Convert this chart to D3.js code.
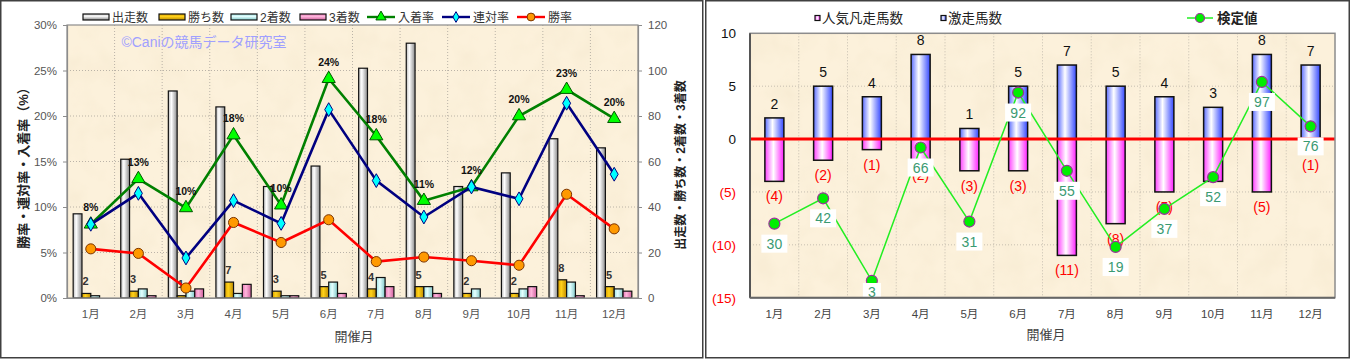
<!DOCTYPE html>
<html>
<head>
<meta charset="utf-8">
<script src="https://d3js.org/d3.v7.min.js"></script>
<style>
  body { margin: 0; background: #fff; }
  svg text { font-family: "Liberation Sans", "Noto Sans CJK JP", sans-serif; }
</style>
</head>
<body>
<script>
// ---- data ----
const months = ["1月", "2月", "3月", "4月", "5月", "6月", "7月", "8月", "9月", "10月", "11月", "12月"];

// left chart: counts
const starters = [37, 61, 91, 84, 49, 58, 101, 112, 49, 55, 70, 66];
const wins = [2, 3, 1, 7, 3, 5, 4, 5, 2, 2, 8, 5];
const seconds = [1, 4, 3, 2, 1, 7, 9, 5, 4, 4, 7, 4];
const thirds = [0, 1, 4, 6, 1, 2, 5, 2, 0, 5, 1, 3];
// left chart: rates (%)
const placeRate = [8.1, 13.1, 9.9, 17.9, 10.2, 24.1, 17.8, 10.7, 12.2, 20.0, 22.9, 19.7];
const quinellaRate = [8.1, 11.5, 4.4, 10.7, 8.2, 20.7, 12.9, 8.9, 12.2, 10.9, 21.4, 13.6];
const winRate = [5.4, 4.9, 1.1, 8.3, 6.1, 8.6, 4.0, 4.5, 4.1, 3.6, 11.4, 7.6];
const placeLabels = ["8%", "13%", "10%", "18%", "10%", "24%", "18%", "11%", "12%", "20%", "23%", "20%"];
const pctTicks = [0, 5, 10, 15, 20, 25, 30];
const countTicks = [0, 20, 40, 60, 80, 100, 120];

// right chart
const gekisou = [2, 5, 4, 8, 1, 5, 7, 5, 4, 3, 8, 7];      // 激走馬数
const bonsou = [4, 2, 1, 2, 3, 3, 11, 8, 5, 4, 5, 1];      // 人気凡走馬数
const kentei = [30, 42, 3, 66, 31, 92, 55, 19, 37, 52, 97, 76]; // 検定値
const diffTicks = [10, 5, 0, -5, -10, -15];

const svg = d3.select("body")
    .append("svg")
    .attr("width", 1351)
    .attr("height", 360);

const defs = svg.append("defs");

// parchment texture
const paper = defs.append("filter")
    .attr("id", "paper")
    .attr("x", 0).attr("y", 0).attr("width", 1).attr("height", 1);
paper.append("feTurbulence")
    .attr("type", "fractalNoise")
    .attr("baseFrequency", "0.035")
    .attr("numOctaves", 3)
    .attr("seed", 5);
paper.append("feColorMatrix")
    .attr("type", "matrix")
    .attr("values", "0 0 0 0 0.86  0 0 0 0 0.75  0 0 0 0 0.55  0.55 0 0 0 -0.21");
paper.append("feComposite").attr("in2", "SourceGraphic").attr("operator", "in");

function gradient(id, stops, vertical) {
    const g = defs.append("linearGradient")
        .attr("id", id)
        .attr("x1", 0).attr("y1", 0)
        .attr("x2", vertical ? 0 : 1).attr("y2", vertical ? 1 : 0);
    stops.forEach(s => g.append("stop").attr("offset", s[0]).attr("stop-color", s[1]));
}

const barColors = {
    starters: [[0, "#bdbdbd"], [0.35, "#ffffff"], [1, "#8a8a8a"]],
    wins: [[0, "#d9a000"], [0.4, "#ffd21a"], [1, "#c08c00"]],
    seconds: [[0, "#9fe3e3"], [0.4, "#e4ffff"], [1, "#80c8c8"]],
    thirds: [[0, "#e87ab8"], [0.4, "#ffb6dc"], [1, "#d0609e"]],
    blue: [[0, "#5a6cff"], [0.4, "#ffffff"], [1, "#3448ff"]],
    pink: [[0, "#ff40ff"], [0.45, "#ffffff"], [1, "#ff20ff"]]
};
Object.keys(barColors).forEach(k => {
    gradient("g-" + k, barColors[k], false);
    gradient("gv-" + k, barColors[k], true);
});

// panel frames
svg.append("rect").attr("x", 0.75).attr("y", 0.75).attr("width", 702).attr("height", 357)
    .attr("fill", "#fff").attr("stroke", "#404040").attr("stroke-width", 1.5);
svg.append("rect").attr("x", 705.75).attr("y", 0.75).attr("width", 643.5).attr("height", 357)
    .attr("fill", "#fff").attr("stroke", "#404040").attr("stroke-width", 1.5);

// =================== LEFT CHART ===================
const L = { left: 67, right: 638, top: 25, bottom: 298 };

const x = d3.scaleBand().domain(months).range([L.left, L.right]);
const yPct = d3.scaleLinear().domain([0, 30]).range([L.bottom, L.top]);
const yCnt = d3.scaleLinear().domain([0, 120]).range([L.bottom, L.top]);

const keys = ["starters", "wins", "seconds", "thirds"];
const series = { starters: starters, wins: wins, seconds: seconds, thirds: thirds };
const xSub = d3.scaleBand().domain(keys).range([0, x.bandwidth()]).paddingOuter(0.7);

const left = svg.append("g");

left.append("rect")
    .attr("x", L.left).attr("y", L.top)
    .attr("width", L.right - L.left).attr("height", L.bottom - L.top)
    .attr("fill", "#fcf1db");
left.append("rect")
    .attr("x", L.left).attr("y", L.top)
    .attr("width", L.right - L.left).attr("height", L.bottom - L.top)
    .attr("fill", "#fff")
    .attr("filter", "url(#paper)");

// grid
left.selectAll(".hgrid")
    .data(pctTicks.slice(1, -1))
    .enter().append("line")
    .attr("x1", L.left).attr("x2", L.right)
    .attr("y1", d => yPct(d)).attr("y2", d => yPct(d))
    .attr("stroke", "#a9a39a").attr("stroke-width", 0.8).attr("stroke-dasharray", "1,2");
left.selectAll(".vgrid")
    .data(months.slice(1))
    .enter().append("line")
    .attr("x1", d => x(d)).attr("x2", d => x(d))
    .attr("y1", L.top).attr("y2", L.bottom)
    .attr("stroke", "#a9a39a").attr("stroke-width", 0.8).attr("stroke-dasharray", "1,2");

// watermark
left.append("text")
    .attr("x", 204).attr("y", 47)
    .attr("text-anchor", "middle")
    .style("font-size", "14px")
    .style("fill", "#a0a0ff")
    .text("©Caniの競馬データ研究室");

// bars
months.forEach((m, i) => {
    keys.forEach(k => {
        const v = series[k][i];
        if (v <= 0) return;
        left.append("rect")
            .attr("x", x(m) + xSub(k))
            .attr("y", yCnt(v))
            .attr("width", xSub.bandwidth())
            .attr("height", L.bottom - yCnt(v))
            .attr("fill", "url(#g-" + k + ")")
            .attr("stroke", "#111")
            .attr("stroke-width", 1.2);
    });
});

// win count labels
left.selectAll(".winlab")
    .data(wins)
    .enter().append("text")
    .attr("x", (d, i) => x(months[i]) + xSub("wins") + 0.5)
    .attr("y", d => yCnt(d) - 8)
    .style("font-size", "11px")
    .style("font-weight", "bold")
    .style("fill", "#333")
    .text(d => d);

// rate lines
const cx = i => x(months[i]) + x.bandwidth() / 2;
const rateLine = d3.line().x((d, i) => cx(i)).y(d => yPct(d));

const lines = [
    { data: placeRate, color: "#008000", sym: d3.symbolTriangle, size: 75, fill: "#00ff00", stroke: "#005500" },
    { data: quinellaRate, color: "#000080", sym: d3.symbolDiamond, size: 55, fill: "#00ffff", stroke: "#000080" },
    { data: winRate, color: "#ff0000", sym: d3.symbolCircle, size: 80, fill: "#ff9900", stroke: "#7a3300" }
];

lines.forEach(l => {
    left.append("path")
        .datum(l.data)
        .attr("d", rateLine)
        .attr("fill", "none")
        .attr("stroke", l.color)
        .attr("stroke-width", 2.6);
    left.selectAll(null)
        .data(l.data)
        .enter().append("path")
        .attr("d", d3.symbol().type(l.sym).size(l.size))
        .attr("transform", (d, i) => `translate(${cx(i)},${yPct(d)})`)
        .attr("fill", l.fill)
        .attr("stroke", l.stroke)
        .attr("stroke-width", 1);
});

// place rate labels
left.selectAll(".placelab")
    .data(placeRate)
    .enter().append("text")
    .attr("x", (d, i) => cx(i))
    .attr("y", d => yPct(d) - 13)
    .attr("text-anchor", "middle")
    .style("font-size", "10.5px")
    .style("font-weight", "bold")
    .style("fill", "#111")
    .text((d, i) => placeLabels[i]);

// plot border
left.append("rect")
    .attr("x", L.left).attr("y", L.top)
    .attr("width", L.right - L.left).attr("height", L.bottom - L.top)
    .attr("fill", "none").attr("stroke", "#8c8c8c").attr("stroke-width", 1.2);

// axes
const axL = left.append("g")
    .attr("transform", `translate(${L.left},0)`)
    .call(d3.axisLeft(yPct).tickValues(pctTicks).tickFormat(d => d + "%").tickSize(4).tickPadding(6));
const axR = left.append("g")
    .attr("transform", `translate(${L.right},0)`)
    .call(d3.axisRight(yCnt).tickValues(countTicks).tickSize(4).tickPadding(6));
const axB = left.append("g")
    .attr("transform", `translate(0,${L.bottom})`)
    .call(d3.axisBottom(x).tickSize(0).tickPadding(12));
[axL, axR, axB].forEach(a => {
    a.select(".domain").attr("stroke", "#8c8c8c").attr("stroke-width", 1.2);
    a.selectAll(".tick line").attr("stroke", "#8c8c8c");
    a.selectAll("text").style("font-size", "11.5px").style("fill", "#555").attr("font-family", null);
});

// axis titles
left.append("text")
    .attr("transform", "translate(28,165) rotate(-90)")
    .attr("text-anchor", "middle")
    .style("font-size", "13px")
    .style("font-weight", "bold")
    .style("fill", "#222")
    .text("勝率・連対率・入着率（%）");
left.append("text")
    .attr("transform", "translate(685,165) rotate(-90)")
    .attr("text-anchor", "middle")
    .style("font-size", "12px")
    .style("font-weight", "bold")
    .style("fill", "#222")
    .text("出走数・勝ち数・2着数・3着数");
left.append("text")
    .attr("x", 354).attr("y", 341)
    .attr("text-anchor", "middle")
    .style("font-size", "13px")
    .style("fill", "#444")
    .text("開催月");

// legend
const legBars = [
    { key: "starters", label: "出走数", x: 83 },
    { key: "wins", label: "勝ち数", x: 159 },
    { key: "seconds", label: "2着数", x: 231 },
    { key: "thirds", label: "3着数", x: 300 }
];
legBars.forEach(b => {
    left.append("rect")
        .attr("x", b.x).attr("y", 14).attr("width", 26).attr("height", 6)
        .attr("fill", "url(#gv-" + b.key + ")")
        .attr("stroke", "#111").attr("stroke-width", 1.2);
    left.append("text")
        .attr("x", b.x + 29).attr("y", 21.5)
        .style("font-size", "12px").style("fill", "#333")
        .text(b.label);
});
const legLines = [
    { idx: 0, label: "入着率", x: 367 },
    { idx: 1, label: "連対率", x: 442 },
    { idx: 2, label: "勝率", x: 517 }
];
legLines.forEach(b => {
    const l = lines[b.idx];
    left.append("line")
        .attr("x1", b.x).attr("x2", b.x + 28).attr("y1", 17).attr("y2", 17)
        .attr("stroke", l.color).attr("stroke-width", 2.4);
    left.append("path")
        .attr("d", d3.symbol().type(l.sym).size(l.size * 0.6))
        .attr("transform", `translate(${b.x + 14},17)`)
        .attr("fill", l.fill).attr("stroke", l.stroke).attr("stroke-width", 1);
    left.append("text")
        .attr("x", b.x + 31).attr("y", 21.5)
        .style("font-size", "12px").style("fill", "#333")
        .text(b.label);
});

// =================== RIGHT CHART ===================
const R = { left: 750, right: 1335, top: 33.3, bottom: 297.7 };

const xr = d3.scaleBand().domain(months).range([R.left, R.right]);
const yr = d3.scaleLinear().domain([-15, 10]).range([R.bottom, R.top]);
const yk = d3.scaleLinear().domain([-5, 120]).range([R.bottom, R.top]);
const rcx = i => xr(months[i]) + xr.bandwidth() / 2;
const barW = 19;

const right = svg.append("g");

right.append("rect")
    .attr("x", R.left).attr("y", R.top)
    .attr("width", R.right - R.left).attr("height", R.bottom - R.top)
    .attr("fill", "#fcf1db");
right.append("rect")
    .attr("x", R.left).attr("y", R.top)
    .attr("width", R.right - R.left).attr("height", R.bottom - R.top)
    .attr("fill", "#fff")
    .attr("filter", "url(#paper)");

right.selectAll(".hgrid")
    .data([5, -5, -10])
    .enter().append("line")
    .attr("x1", R.left).attr("x2", R.right)
    .attr("y1", d => yr(d)).attr("y2", d => yr(d))
    .attr("stroke", "#b9b2a6").attr("stroke-width", 0.8).attr("stroke-dasharray", "1,2");
right.selectAll(".vgrid")
    .data(months.slice(1))
    .enter().append("line")
    .attr("x1", d => xr(d)).attr("x2", d => xr(d))
    .attr("y1", R.top).attr("y2", R.bottom)
    .attr("stroke", "#b9b2a6").attr("stroke-width", 0.8).attr("stroke-dasharray", "1,2");

// bars
right.selectAll(".blue")
    .data(gekisou)
    .enter().append("rect")
    .attr("x", (d, i) => rcx(i) - barW / 2)
    .attr("y", d => yr(d))
    .attr("width", barW)
    .attr("height", d => yr(0) - yr(d))
    .attr("fill", "url(#g-blue)")
    .attr("stroke", "#111").attr("stroke-width", 1.5);
right.selectAll(".pink")
    .data(bonsou)
    .enter().append("rect")
    .attr("x", (d, i) => rcx(i) - barW / 2)
    .attr("y", yr(0))
    .attr("width", barW)
    .attr("height", d => yr(-d) - yr(0))
    .attr("fill", "url(#g-pink)")
    .attr("stroke", "#111").attr("stroke-width", 1.5);

// bar labels
right.selectAll(".bluelab")
    .data(gekisou)
    .enter().append("text")
    .attr("x", (d, i) => rcx(i))
    .attr("y", d => yr(d) - 9)
    .attr("text-anchor", "middle")
    .style("font-size", "14px").style("fill", "#111")
    .text(d => d);
right.selectAll(".pinklab")
    .data(bonsou)
    .enter().append("text")
    .attr("x", (d, i) => rcx(i))
    .attr("y", d => yr(-d) + 20)
    .attr("text-anchor", "middle")
    .style("font-size", "14px").style("fill", "#ff0000")
    .text(d => "(" + d + ")");

// zero line
right.append("line")
    .attr("x1", R.left).attr("x2", R.right)
    .attr("y1", yr(0)).attr("y2", yr(0))
    .attr("stroke", "#ff0000").attr("stroke-width", 3);

// kentei line
right.append("path")
    .datum(kentei)
    .attr("d", d3.line().x((d, i) => rcx(i)).y(d => yk(d)))
    .attr("fill", "none")
    .attr("stroke", "#22ee22").attr("stroke-width", 1.5);
right.selectAll(".kdot")
    .data(kentei)
    .enter().append("circle")
    .attr("cx", (d, i) => rcx(i))
    .attr("cy", d => yk(d))
    .attr("r", 5.5)
    .attr("fill", "#00ee00")
    .attr("stroke", "#993399").attr("stroke-width", 1.2);

// kentei labels
const klab = right.selectAll(".klab")
    .data(kentei)
    .enter().append("g")
    .attr("transform", (d, i) => `translate(${rcx(i)},${Math.min(yk(d) + 20, 292)})`);
klab.append("rect")
    .attr("x", d => -(String(d).length * 4 + 5))
    .attr("y", -9)
    .attr("width", d => String(d).length * 8 + 10)
    .attr("height", 18)
    .attr("fill", "#fff");
klab.append("text")
    .attr("y", 5)
    .attr("text-anchor", "middle")
    .style("font-size", "14px").style("fill", "#3a9a72")
    .text(d => d);

// border + axes
right.append("rect")
    .attr("x", R.left).attr("y", R.top)
    .attr("width", R.right - R.left).attr("height", R.bottom - R.top)
    .attr("fill", "none").attr("stroke", "#8c8c8c").attr("stroke-width", 1.5);
right.append("line")
    .attr("x1", R.left).attr("x2", R.left).attr("y1", R.top).attr("y2", R.bottom)
    .attr("stroke", "#555").attr("stroke-width", 2);
right.append("line")
    .attr("x1", R.left).attr("x2", R.right).attr("y1", R.bottom).attr("y2", R.bottom)
    .attr("stroke", "#666").attr("stroke-width", 2);

const ayr = right.append("g")
    .attr("transform", `translate(${R.left},0)`)
    .call(d3.axisLeft(yr).tickValues(diffTicks).tickSize(0).tickPadding(14)
        .tickFormat(d => d < 0 ? "(" + (-d) + ")" : d));
ayr.select(".domain").remove();
ayr.selectAll("text")
    .attr("font-family", null)
    .style("font-size", "13.5px")
    .style("fill", d => d < 0 ? "#ff0000" : "#111");

const axr = right.append("g")
    .attr("transform", `translate(0,${R.bottom})`)
    .call(d3.axisBottom(xr).tickSize(0).tickPadding(12));
axr.select(".domain").remove();
axr.selectAll("text").attr("font-family", null).style("font-size", "11.5px").style("fill", "#444");

right.append("text")
    .attr("x", 1046).attr("y", 339)
    .attr("text-anchor", "middle")
    .style("font-size", "13px").style("fill", "#444")
    .text("開催月");

// legend
[{ key: "pink", label: "人気凡走馬数", x: 815 }, { key: "blue", label: "激走馬数", x: 941 }].forEach(b => {
    right.append("rect")
        .attr("x", b.x).attr("y", 15.5).attr("width", 5).attr("height", 5)
        .attr("fill", "url(#g-" + b.key + ")")
        .attr("stroke", "#111").attr("stroke-width", 1.2);
    right.append("text")
        .attr("x", b.x + 7).attr("y", 23)
        .style("font-size", "13.5px").style("fill", "#222")
        .text(b.label);
});
right.append("line")
    .attr("x1", 1187).attr("x2", 1213).attr("y1", 18).attr("y2", 18)
    .attr("stroke", "#22ee22").attr("stroke-width", 1.5);
right.append("circle")
    .attr("cx", 1200).attr("cy", 18).attr("r", 4.5)
    .attr("fill", "#00ee00").attr("stroke", "#993399").attr("stroke-width", 1.2);
right.append("text")
    .attr("x", 1217).attr("y", 23)
    .style("font-size", "13.5px").style("font-weight", "bold").style("fill", "#222")
    .text("検定値");
</script>
</body>
</html>
